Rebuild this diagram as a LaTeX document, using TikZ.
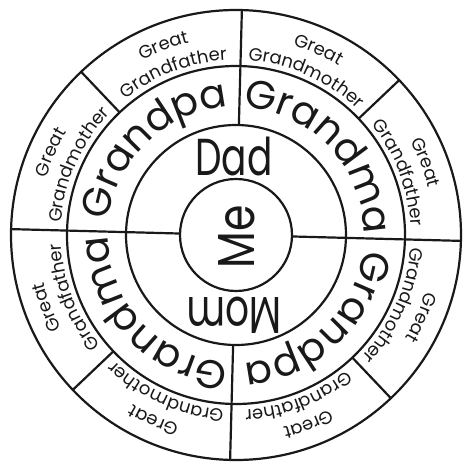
\documentclass[tikz,border=0pt]{standalone}
\usepackage{fontspec}
\setmainfont{Poppins}
\usepackage{xcolor}
\usepackage{tikz}
\usetikzlibrary{decorations.text}
\definecolor{chartink}{RGB}{25,25,25}
\newcommand{\ggfont}{\fontsize{18}{18}\selectfont}
\newcommand{\gpfont}{\fontsize{40}{40}\selectfont}
\newcommand{\parfont}{\fontsize{52}{52}\selectfont}

\begin{document}
\begin{tikzpicture}[x=1pt, y=1pt,
  ringline/.style={line width=2.2pt, color=chartink},
  ggtext/.style={decorate, decoration={text along path, text align=center, text color=chartink, text={|\ggfont|#1}}},
  gptext/.style={decorate, decoration={text along path, text align=center, text color=chartink, text={|\gpfont|#1}}},
  parent/.style={text=chartink, font=\parfont, inner sep=0pt}]
\useasboundingbox (-236,-236) rectangle (227,235);
\draw[ringline] (0,0) circle (56);
\draw[ringline] (0,0) circle (110);
\draw[ringline] (0,0) circle (169);
\draw[ringline] (0,0) circle (225);
\draw[ringline] (178.5:56) -- (178.5:225);
\draw[ringline] (-1.5:56) -- (-1.5:225);
\draw[ringline] (88.5:110) -- (88.5:225);
\draw[ringline] (268.5:110) -- (268.5:225);
\draw[ringline] (43.5:169) -- (43.5:225);
\draw[ringline] (133.5:169) -- (133.5:225);
\draw[ringline] (223.5:169) -- (223.5:225);
\draw[ringline] (313.5:169) -- (313.5:225);
\node[parent, xscale=0.72] (dad) at (-2,79) {Dad};
\node[parent, rotate=180, xscale=0.72] (mom) at (-2,-80) {Mom};
\node[parent, rotate=90, xscale=0.82] (me) at (1,-2) {Me};
\path[gptext=Grandpa] (188.5:128) arc[start angle=188.5, end angle=78.5, radius=128];
\path[gptext=Grandma] (98.5:128) arc[start angle=98.5, end angle=-11.5, radius=128];
\path[gptext=Grandpa] (8.5:128) arc[start angle=8.5, end angle=-101.5, radius=128];
\path[gptext=Grandma] (-81.5:128) arc[start angle=-81.5, end angle=-191.5, radius=128];
\path[ggtext=Great] (133.5:198) arc[start angle=133.5, end angle=88.5, radius=198];
\path[ggtext=Grandfather] (133.5:175) arc[start angle=133.5, end angle=88.5, radius=175];
\path[ggtext=Great] (88.5:198) arc[start angle=88.5, end angle=43.5, radius=198];
\path[ggtext=Grandmother] (88.5:175) arc[start angle=88.5, end angle=43.5, radius=175];
\path[ggtext=Great] (43.5:198) arc[start angle=43.5, end angle=-1.5, radius=198];
\path[ggtext=Grandfather] (43.5:175) arc[start angle=43.5, end angle=-1.5, radius=175];
\path[ggtext=Great] (-1.5:198) arc[start angle=-1.5, end angle=-46.5, radius=198];
\path[ggtext=Grandmother] (-1.5:175) arc[start angle=-1.5, end angle=-46.5, radius=175];
\path[ggtext=Great] (-46.5:198) arc[start angle=-46.5, end angle=-91.5, radius=198];
\path[ggtext=Grandfather] (-46.5:175) arc[start angle=-46.5, end angle=-91.5, radius=175];
\path[ggtext=Great] (-91.5:198) arc[start angle=-91.5, end angle=-136.5, radius=198];
\path[ggtext=Grandmother] (-91.5:175) arc[start angle=-91.5, end angle=-136.5, radius=175];
\path[ggtext=Great] (-136.5:198) arc[start angle=-136.5, end angle=-181.5, radius=198];
\path[ggtext=Grandfather] (-136.5:175) arc[start angle=-136.5, end angle=-181.5, radius=175];
\path[ggtext=Great] (178.5:198) arc[start angle=178.5, end angle=133.5, radius=198];
\path[ggtext=Grandmother] (178.5:175) arc[start angle=178.5, end angle=133.5, radius=175];
\end{tikzpicture}
\end{document}
